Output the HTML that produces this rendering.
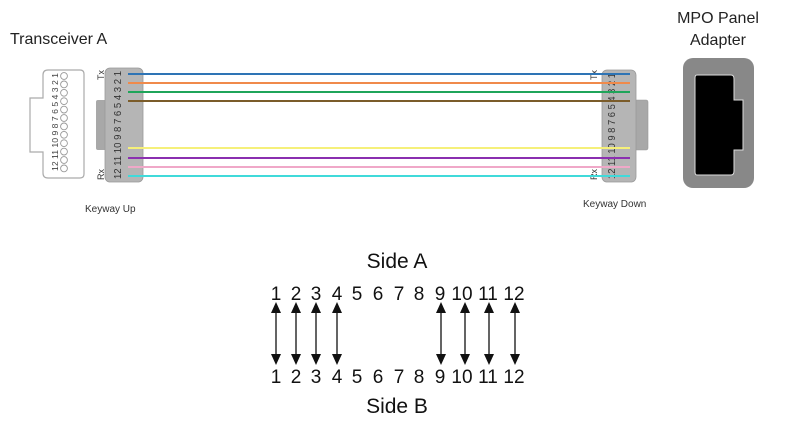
<!DOCTYPE html>
<html><head><meta charset="utf-8"><style>
html,body{margin:0;padding:0;background:#fff;}
svg{display:block;font-family:"Liberation Sans",sans-serif;}
</style></head><body>
<svg width="794" height="422" viewBox="0 0 794 422" xmlns="http://www.w3.org/2000/svg">
<text x="10" y="44" font-size="16" fill="#222">Transceiver A</text>
<text x="718" y="23" font-size="16" text-anchor="middle" fill="#222">MPO Panel</text>
<text x="718" y="45" font-size="16" text-anchor="middle" fill="#222">Adapter</text>

<path d="M48,70 H80 Q84,70 84,74 V174 Q84,178 80,178 H48 Q43,178 43,173 V152 H30 V98 H43 V75 Q43,70 48,70 Z" fill="#fff" stroke="#aaa" stroke-width="1.2"/>
<g fill="#fff" stroke="#999" stroke-width="0.9">
<circle cx="64" cy="76" r="3.4"/><circle cx="64" cy="84.4" r="3.4"/><circle cx="64" cy="92.8" r="3.4"/><circle cx="64" cy="101.2" r="3.4"/><circle cx="64" cy="109.6" r="3.4"/><circle cx="64" cy="118" r="3.4"/><circle cx="64" cy="126.4" r="3.4"/><circle cx="64" cy="134.8" r="3.4"/><circle cx="64" cy="143.2" r="3.4"/><circle cx="64" cy="151.6" r="3.4"/><circle cx="64" cy="160" r="3.4"/><circle cx="64" cy="168.4" r="3.4"/>
</g>
<text transform="translate(58,171) rotate(-90)" font-size="8" fill="#444" textLength="98" lengthAdjust="spacingAndGlyphs">12 11 10 9 8 7 6 5 4 3 2 1</text>

<rect x="96" y="100" width="14" height="50" rx="2" fill="#a8a8a8"/>
<rect x="105" y="68" width="38" height="114" rx="5" fill="#b5b5b5" stroke="#999" stroke-width="0.8"/>
<text transform="translate(121,179) rotate(-90)" font-size="10" fill="#333" textLength="108" lengthAdjust="spacingAndGlyphs">12 11 10 9 8 7 6 5 4 3 2 1</text>
<text transform="translate(104,80) rotate(-90)" font-size="9" fill="#333">Tx</text>
<text transform="translate(104,180) rotate(-90)" font-size="9" fill="#333">Rx</text>

<rect x="630" y="100" width="18" height="50" rx="2" fill="#a8a8a8" stroke="#999" stroke-width="0.6"/>
<rect x="602" y="70" width="34" height="112" rx="5" fill="#b5b5b5" stroke="#999" stroke-width="0.8"/>
<text transform="translate(615,179) rotate(-90)" font-size="10" fill="#333" textLength="106" lengthAdjust="spacingAndGlyphs">12 11 10 9 8 7 6 5 4 3 2 1</text>
<text transform="translate(597,80) rotate(-90)" font-size="9" fill="#333">Tx</text>
<text transform="translate(597,180) rotate(-90)" font-size="9" fill="#333">Rx</text>

<g stroke-width="2">
<line x1="128" y1="74" x2="630" y2="74" stroke="#2e74b5"/>
<line x1="128" y1="83" x2="630" y2="83" stroke="#f08a4b"/>
<line x1="128" y1="92" x2="630" y2="92" stroke="#1fa55a"/>
<line x1="128" y1="101" x2="630" y2="101" stroke="#7b5c2a"/>
<line x1="128" y1="148" x2="630" y2="148" stroke="#f5f07a"/>
<line x1="128" y1="158" x2="630" y2="158" stroke="#8a2fb0"/>
<line x1="128" y1="167" x2="630" y2="167" stroke="#f0a8c8"/>
<line x1="128" y1="176" x2="630" y2="176" stroke="#40dada"/>
</g>

<text x="85" y="212" font-size="10" fill="#333">Keyway Up</text>
<text x="583" y="207" font-size="10" fill="#333">Keyway Down</text>

<rect x="683" y="58" width="71" height="130" rx="10" fill="#888"/>
<path d="M697,75 H731 Q734,75 734,79 V100 H743 V150 H734 V171 Q734,175 731,175 H697 Q695,175 695,172 V78 Q695,75 697,75 Z" fill="#000" stroke="#ddd" stroke-width="1"/>

<text x="397" y="268" font-size="21" text-anchor="middle" fill="#111">Side A</text>
<text x="397" y="413" font-size="21" text-anchor="middle" fill="#111">Side B</text>
<g font-size="19" text-anchor="middle" fill="#111">
<text x="276" y="300">1</text><text x="296" y="300">2</text><text x="316" y="300">3</text><text x="337" y="300">4</text><text x="357" y="300">5</text><text x="378" y="300">6</text><text x="399" y="300">7</text><text x="419" y="300">8</text><text x="440" y="300">9</text><text x="462" y="300">10</text><text x="488" y="300">11</text><text x="514" y="300">12</text>
<text x="276" y="383">1</text><text x="296" y="383">2</text><text x="316" y="383">3</text><text x="337" y="383">4</text><text x="357" y="383">5</text><text x="378" y="383">6</text><text x="399" y="383">7</text><text x="419" y="383">8</text><text x="440" y="383">9</text><text x="462" y="383">10</text><text x="488" y="383">11</text><text x="514" y="383">12</text>
</g>
<g stroke="#111" stroke-width="1.3">
<line x1="276" y1="310" x2="276" y2="357"/>
<line x1="296" y1="310" x2="296" y2="357"/>
<line x1="316" y1="310" x2="316" y2="357"/>
<line x1="337" y1="310" x2="337" y2="357"/>
<line x1="441" y1="310" x2="441" y2="357"/>
<line x1="465" y1="310" x2="465" y2="357"/>
<line x1="489" y1="310" x2="489" y2="357"/>
<line x1="515" y1="310" x2="515" y2="357"/>
</g>
<g fill="#111">
<path d="M271,313 L276,302 L281,313 Z M271,354 L276,365 L281,354 Z"/>
<path d="M291,313 L296,302 L301,313 Z M291,354 L296,365 L301,354 Z"/>
<path d="M311,313 L316,302 L321,313 Z M311,354 L316,365 L321,354 Z"/>
<path d="M332,313 L337,302 L342,313 Z M332,354 L337,365 L342,354 Z"/>
<path d="M436,313 L441,302 L446,313 Z M436,354 L441,365 L446,354 Z"/>
<path d="M460,313 L465,302 L470,313 Z M460,354 L465,365 L470,354 Z"/>
<path d="M484,313 L489,302 L494,313 Z M484,354 L489,365 L494,354 Z"/>
<path d="M510,313 L515,302 L520,313 Z M510,354 L515,365 L520,354 Z"/>
</g>
</svg>
</body></html>
